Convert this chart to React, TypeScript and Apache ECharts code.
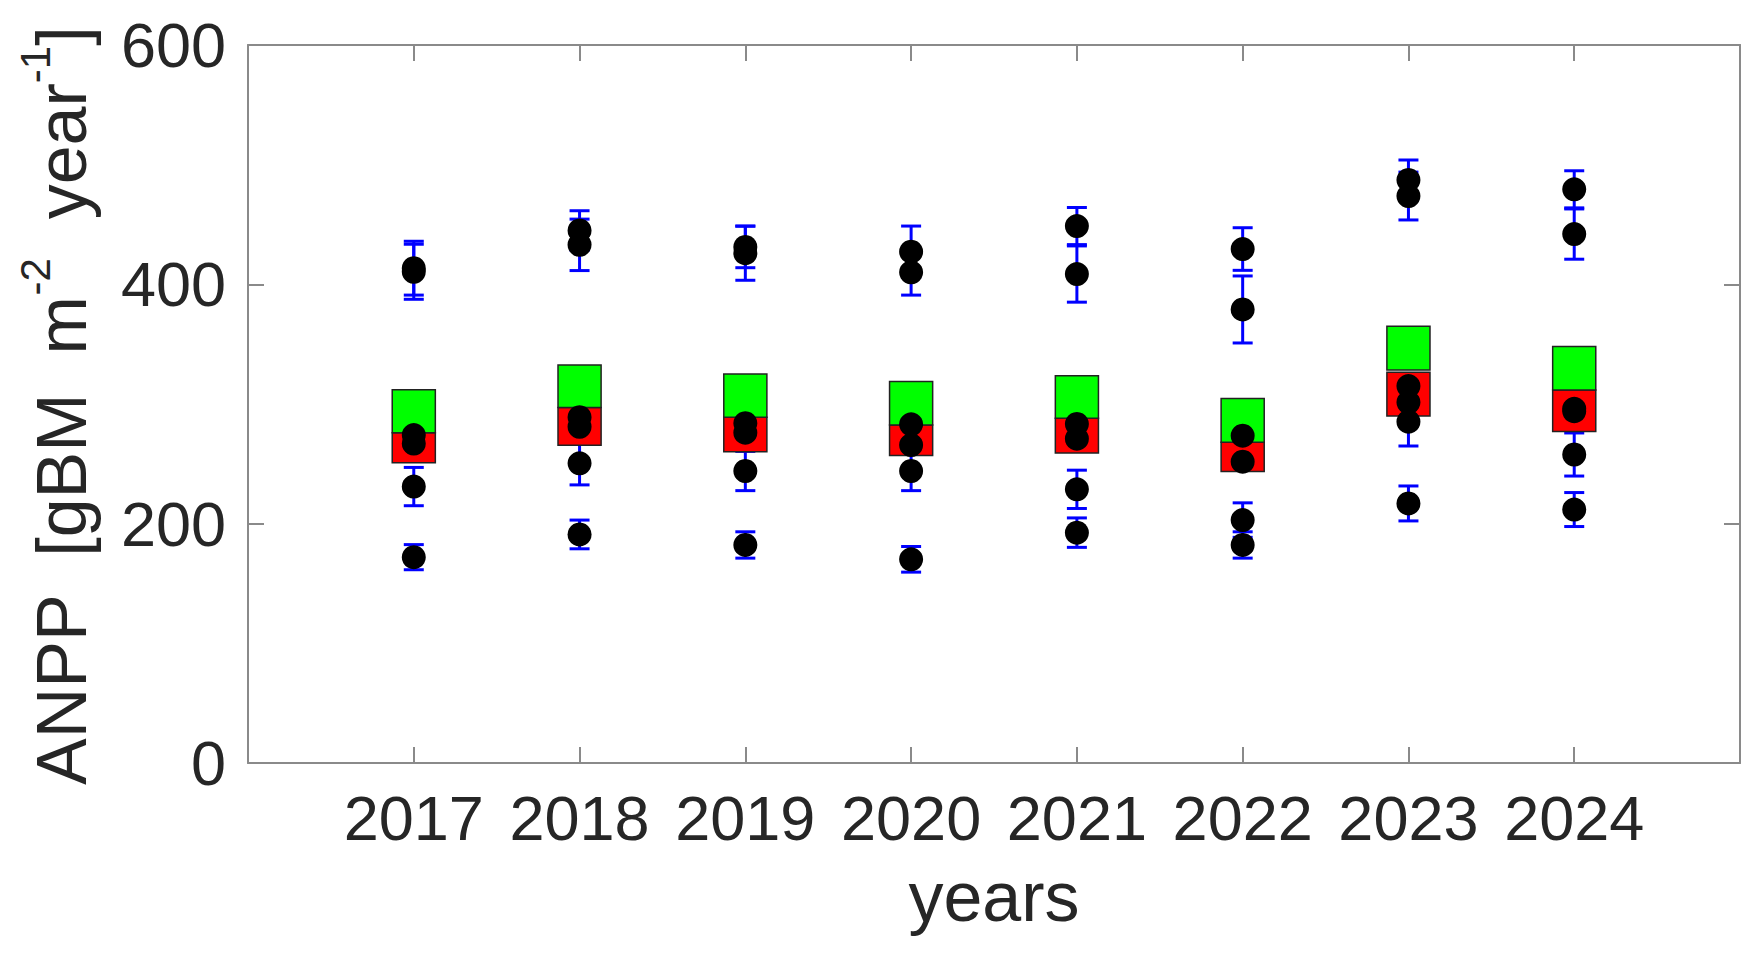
import React, { useEffect, useRef } from "react";
import * as echarts from "echarts";

// ---- data ----
const years = [2017, 2018, 2019, 2020, 2021, 2022, 2023, 2024];
const redLow = [251, 265.5, 260, 257, 259, 243.5, 290, 277];
const redHigh = [276, 297, 289, 282.5, 288, 268, 326.5, 311.7];
const greenLow = [276, 297, 289, 282.5, 288, 268, 328.5, 311.7];
const greenHigh = [312, 332.5, 325, 318.7, 323.7, 304.7, 365, 348];

// six plot values per year and their standard deviations (0 = bar hidden inside box)
const dots2017 = [413.5, 410.5, 274, 267, 231, 172];
const errs2017 = [22.5, 23, 0, 0, 16, 10.5];
const dots2018 = [445, 433, 289, 281, 250.4, 191];
const errs2018 = [16.5, 21.5, 0, 0, 18, 12];
const dots2019 = [431.3, 426, 284, 276, 244, 182.2];
const errs2019 = [17.4, 22.6, 0, 0, 16.4, 11];
const dots2020 = [427.3, 410, 283, 265.7, 244, 170.2];
const errs2020 = [21.4, 19, 0, 0, 16.4, 10.7];
const dots2021 = [448.7, 408.6, 283.3, 271, 228.7, 192.5];
const errs2021 = [15.5, 23.5, 0, 0, 16, 12.3];
const dots2022 = [429.5, 379, 273.5, 251.8, 203, 182.2];
const errs2022 = [17.8, 28, 0, 0, 14.4, 11];
const dots2023 = [487.2, 473.8, 315, 301.4, 285.2, 216.9];
const errs2023 = [16.7, 20, 0, 0, 20.3, 14.6];
const dots2024 = [479.4, 442, 296, 294, 257.8, 211.8];
const errs2024 = [15.5, 21, 0, 0, 18, 14.2];

const dots = [dots2017, dots2018, dots2019, dots2020, dots2021, dots2022, dots2023, dots2024];
const errs = [errs2017, errs2018, errs2019, errs2020, errs2021, errs2022, errs2023, errs2024];

const yMin = 0;
const yMax = 600;
const yStep = 200;
const xMin = 2016;
const xMax = 2025;

// ---- styles ----
const FONT = "'Liberation Sans', Arial, Helvetica, sans-serif";
const AXIS_COLOR = "#8a8a8a";
const TEXT_COLOR = "#262626";
const BOX_HALF = 0.13;
const CAP_HALF = 10;

export default function App() {
  const ref = useRef<HTMLDivElement>(null);

  useEffect(() => {
    if (!ref.current) return;
    const chart = echarts.init(ref.current, undefined, { renderer: "svg" });

    const scatterData: number[][] = [];
    const errData: number[][] = [];
    years.forEach((yr, i) => {
      dots[i].forEach((v, j) => {
        scatterData.push([yr, v]);
        if (errs[i][j] > 0) errData.push([yr, v, errs[i][j]]);
      });
    });
    const redData = years.map((yr, i) => [yr, redLow[i], redHigh[i]]);
    const greenData = years.map((yr, i) => [yr, greenLow[i], greenHigh[i]]);

    const boxRender = (fill: string) => (params: any, api: any) => {
      const x = api.value(0);
      const lo = api.value(1);
      const hi = api.value(2);
      const p1 = api.coord([x - BOX_HALF, hi]);
      const p2 = api.coord([x + BOX_HALF, lo]);
      return {
        type: "rect",
        shape: { x: p1[0], y: p1[1], width: p2[0] - p1[0], height: p2[1] - p1[1] },
        style: { fill, stroke: "#222222", lineWidth: 1.5 },
      };
    };

    const axisLine = { show: true, onZero: false, lineStyle: { color: AXIS_COLOR, width: 2 } };
    const axisTick = { show: true, inside: true, length: 16, lineStyle: { color: AXIS_COLOR, width: 2 } };

    const option: any = {
      animation: false,
      backgroundColor: "#ffffff",
      grid: { left: 248, right: 21, top: 45, bottom: 192, containLabel: false },
      xAxis: [
        {
          type: "value",
          position: "bottom",
          min: xMin,
          max: xMax,
          interval: 1,
          axisLine,
          axisTick,
          splitLine: { show: false },
          axisLabel: {
            show: true,
            margin: 23,
            fontSize: 63,
            fontFamily: FONT,
            color: TEXT_COLOR,
            formatter: (v: number) => (years.indexOf(v) >= 0 ? String(v) : ""),
          },
          name: "years",
          nameLocation: "middle",
          nameGap: 99,
          nameTextStyle: { fontSize: 70, fontFamily: FONT, color: TEXT_COLOR },
        },
        {
          type: "value",
          position: "top",
          min: xMin,
          max: xMax,
          interval: 1,
          axisLine,
          axisTick,
          splitLine: { show: false },
          axisLabel: { show: false },
        },
      ],
      yAxis: [
        {
          type: "value",
          position: "left",
          min: yMin,
          max: yMax,
          interval: yStep,
          axisLine,
          axisTick,
          splitLine: { show: false },
          axisLabel: {
            show: true,
            margin: 22,
            fontSize: 63,
            fontFamily: FONT,
            color: TEXT_COLOR,
          },
        },
        {
          type: "value",
          position: "right",
          min: yMin,
          max: yMax,
          interval: yStep,
          axisLine,
          axisTick,
          splitLine: { show: false },
          axisLabel: { show: false },
        },
      ],
      graphic: [
        {
          type: "text",
          x: 62,
          y: 406,
          rotation: Math.PI / 2,
          style: {
            text: "{n|ANPP  [gBM  m}{s|-2}{n|  year}{s|-1}{n|]}",
            align: "center",
            verticalAlign: "middle",
            fill: TEXT_COLOR,
            fontFamily: FONT,
            rich: {
              n: { fontSize: 70, lineHeight: 96, verticalAlign: "middle", fontFamily: FONT, fill: TEXT_COLOR },
              s: { fontSize: 42, lineHeight: 36, verticalAlign: "top", fontFamily: FONT, fill: TEXT_COLOR },
            },
          },
        },
      ],
      series: [
        {
          type: "custom",
          name: "sd",
          xAxisIndex: 0,
          yAxisIndex: 0,
          z: 1,
          data: errData,
          renderItem: (params: any, api: any) => {
            const x = api.value(0);
            const y = api.value(1);
            const e = api.value(2);
            const t = api.coord([x, y + e]);
            const b = api.coord([x, y - e]);
            const st = { stroke: "#0000ff", lineWidth: 3 };
            return {
              type: "group",
              children: [
                { type: "line", shape: { x1: t[0], y1: t[1], x2: b[0], y2: b[1] }, style: st },
                { type: "line", shape: { x1: t[0] - CAP_HALF, y1: t[1], x2: t[0] + CAP_HALF, y2: t[1] }, style: st },
                { type: "line", shape: { x1: b[0] - CAP_HALF, y1: b[1], x2: b[0] + CAP_HALF, y2: b[1] }, style: st },
              ],
            };
          },
        },
        {
          type: "custom",
          name: "red",
          xAxisIndex: 0,
          yAxisIndex: 0,
          z: 2,
          data: redData,
          renderItem: boxRender("#ff0000"),
        },
        {
          type: "custom",
          name: "green",
          xAxisIndex: 0,
          yAxisIndex: 0,
          z: 2,
          data: greenData,
          renderItem: boxRender("#00ff00"),
        },
        {
          type: "scatter",
          name: "plots",
          xAxisIndex: 0,
          yAxisIndex: 0,
          z: 3,
          symbol: "circle",
          symbolSize: 24,
          itemStyle: { color: "#000000", opacity: 1 },
          data: scatterData,
        },
      ],
    };

    chart.setOption(option);
    return () => chart.dispose();
  }, []);

  return (
    <div
      ref={ref}
      style={{ position: "absolute", left: 0, top: 0, width: 1761, height: 955, background: "#ffffff" }}
    />
  );
}
